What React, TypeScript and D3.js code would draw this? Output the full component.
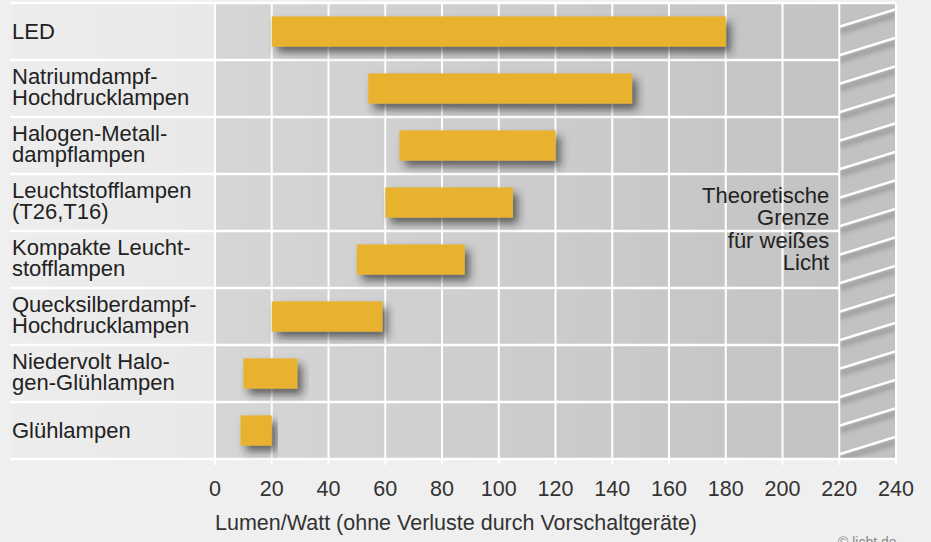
import React from "react";
import * as d3 from "d3";

const categories: string[][] = [
  ["LED"],
  ["Natriumdampf-", "Hochdrucklampen"],
  ["Halogen-Metall-", "dampflampen"],
  ["Leuchtstofflampen", "(T26,T16)"],
  ["Kompakte Leucht-", "stofflampen"],
  ["Quecksilberdampf-", "Hochdrucklampen"],
  ["Niedervolt Halo-", "gen-Glühlampen"],
  ["Glühlampen"],
];
const lowValues = [20, 54, 65, 60, 50, 20, 10, 9];
const highValues = [180, 147, 120, 105, 88, 59, 29, 20];
const tickValues = [0, 20, 40, 60, 80, 100, 120, 140, 160, 180, 200, 220, 240];
const theoreticalLimit = 220;
const limitLabel = ["Theoretische", "Grenze", "für weißes", "Licht"];
const axisTitle = "Lumen/Watt (ohne Verluste durch Vorschaltgeräte)";
const credit = "© licht.de";

const W = 931;
const H = 542;
const FONT = "'Liberation Sans', Arial, Helvetica, sans-serif";

export default function App() {
  const x = d3.scaleLinear().domain([0, 240]).range([215, 896]);
  const idx = categories.map((_, i) => i);
  const y = d3.scaleBand<number>().domain(idx).range([3, 459]).padding(0);
  const labelLeft = 10;
  const top = y.range()[0];
  const bottom = y.range()[1];
  const barH = y.bandwidth() * 0.53;
  const xl = x(theoreticalLimit);
  const xr = x(240);
  const hatchStep = y.step() / 2;
  const hatchRise = 17.4;
  const hatchLines = d3.range(0, 17).map((k) => top + 6.3 + k * hatchStep);

  return (
    <div style={{ position: "absolute", left: 0, top: 0 }}>
      <svg width={W} height={H} style={{ display: "block", fontFamily: FONT }}>
        <defs>
          <linearGradient id="plotBg" x1="0" x2="1" y1="0" y2="0">
            <stop offset="0%" stopColor="#d6d6d6" />
            <stop offset="100%" stopColor="#c3c3c3" />
          </linearGradient>
          <linearGradient id="labelBg" x1="0" x2="1" y1="0" y2="0">
            <stop offset="0%" stopColor="#ededed" />
            <stop offset="100%" stopColor="#e8e8e8" />
          </linearGradient>
          <filter id="barShadow" x="-20%" y="-50%" width="140%" height="220%">
            <feDropShadow dx="5" dy="6" stdDeviation="4" floodColor="#222" floodOpacity="0.65" />
          </filter>
          <filter id="blur2" x="-10%" y="-50%" width="120%" height="200%">
            <feGaussianBlur stdDeviation="2" />
          </filter>
          <clipPath id="hatchClip">
            <rect x={xl} y={top} width={xr - xl} height={bottom - top} />
          </clipPath>
        </defs>

        <rect x={0} y={0} width={W} height={H} fill="#efefef" />
        <rect x={labelLeft} y={top} width={x(0) - labelLeft} height={bottom - top} fill="url(#labelBg)" />
        <rect x={x(0)} y={top} width={xl - x(0)} height={bottom - top} fill="url(#plotBg)" />
        <rect x={xl} y={top} width={xr - xl} height={bottom - top} fill="#c2c2c2" />

        {/* hatch */}
        <g clipPath="url(#hatchClip)">
          {hatchLines.map((yr, i) => (
            <line key={"hs" + i} x1={xl} y1={yr + hatchRise + 5} x2={xr} y2={yr + 5}
              stroke="#999" strokeWidth={6} filter="url(#blur2)" opacity={0.8} />
          ))}
          {hatchLines.map((yr, i) => (
            <line key={"h" + i} x1={xl} y1={yr + hatchRise} x2={xr} y2={yr}
              stroke="#fff" strokeWidth={2.5} />
          ))}
        </g>

        {/* horizontal row lines */}
        {d3.range(categories.length + 1).map((i) => {
          const yy = top + i * y.step();
          const edge = i === 0 || i === categories.length;
          return (
            <line key={"r" + i} x1={labelLeft} x2={edge ? xr : xl} y1={yy} y2={yy}
              stroke="#fff" strokeWidth={2.5} />
          );
        })}

        {/* vertical grid lines */}
        {tickValues.map((t) => (
          <line key={"v" + t} x1={x(t)} x2={x(t)} y1={top} y2={bottom + 6}
            stroke="#fff" strokeWidth={2} />
        ))}

        {/* bars */}
        {categories.map((_, i) => {
          const cy = (y(i) as number) + y.bandwidth() / 2;
          return (
            <rect key={"b" + i} x={x(lowValues[i])} y={cy - barH / 2}
              width={x(highValues[i]) - x(lowValues[i])} height={barH}
              fill="#e9b22e" filter="url(#barShadow)" />
          );
        })}

        {/* category labels */}
        {categories.map((lines, i) => {
          const cy = (y(i) as number) + y.bandwidth() / 2;
          const base = lines.length === 1 ? [cy + 7] : [cy - 5, cy + 16.5];
          return lines.map((t, j) => (
            <text key={"l" + i + "-" + j} x={labelLeft + 2} y={base[j]} fontSize={22} fill="#222">
              {t}
            </text>
          ));
        })}

        {/* limit label */}
        {limitLabel.map((t, j) => (
          <text key={"ll" + j} x={xl - 10} y={203 + j * 22.3} fontSize={22} fill="#222" textAnchor="end">
            {t}
          </text>
        ))}

        {/* tick labels */}
        {tickValues.map((t) => (
          <text key={"t" + t} x={x(t)} y={496} fontSize={21.5} fill="#333" textAnchor="middle">
            {t}
          </text>
        ))}

        <text x={x(0)} y={530} fontSize={21.5} fill="#333">{axisTitle}</text>
        <text x={838} y={547} fontSize={14} fill="#888">{credit}</text>
      </svg>
    </div>
  );
}
